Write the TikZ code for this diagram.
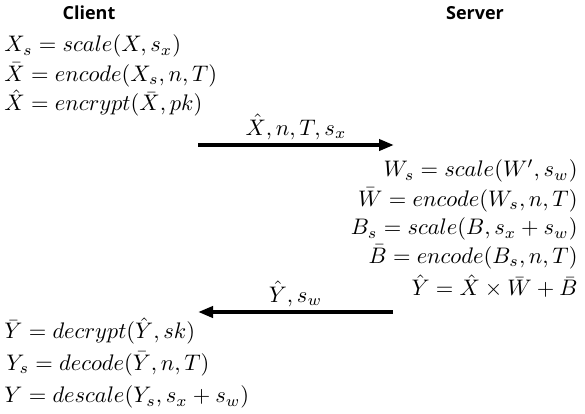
\documentclass[tikz,border=0pt]{standalone}
\usepackage{amsmath}
\usepackage{fontspec}
\setsansfont{Open Sans}
\usepackage{tikz}
\usetikzlibrary{arrows.meta}

\begin{document}
\begin{tikzpicture}[
      x=1pt, y=1pt,
      >={Triangle[length=15pt, width=11pt]},
      hdr/.style={font=\sffamily\bfseries\fontsize{18}{20}\selectfont},
      eq/.style={scale=2.25, inner sep=0pt},
      lbl/.style={scale=2.25, inner sep=0.5pt},
      msg/.style={line width=4pt, ->}
    ]
    \useasboundingbox (0,0) rectangle (585,-413);

    % Intestazioni
    \node[hdr] (client) at (89,-13) {Client};
    \node[hdr] (server) at (475,-13) {Server};

    % Client: cifratura
    \node[eq, anchor=west] (c1) at (4,-46) {$X_s = scale(X, s_x)$};
    \node[eq, anchor=west] (c2) at (4,-75) {$\bar{X} = encode(X_s, n, T)$};
    \node[eq, anchor=west] (c3) at (4,-103) {$\hat{X} = encrypt(\bar{X}, pk)$};

    % Messaggio verso il server
    \coordinate (m1a) at (198,-145);
    \coordinate (m1b) at (394,-145);
    \draw[msg] (m1a) -- (m1b) node[midway, above, lbl] (m1) {$\hat{X}, n, T, s_x$};

    % Server: calcolo
    \node[eq, anchor=east] (s1) at (578,-171) {$W_s = scale(W', s_w)$};
    \node[eq, anchor=east] (s2) at (578,-200) {$\bar{W} = encode(W_s, n, T)$};
    \node[eq, anchor=east] (s3) at (578,-229) {$B_s = scale(B, s_x + s_w)$};
    \node[eq, anchor=east] (s4) at (578,-257) {$\bar{B} = encode(B_s, n, T)$};
    \node[eq, anchor=east] (s5) at (578,-286) {$\hat{Y} = \hat{X} \times \bar{W} + \bar{B}$};

    % Messaggio verso il client
    \coordinate (m2a) at (393,-312);
    \coordinate (m2b) at (198,-312);
    \draw[msg] (m2a) -- (m2b) node[midway, above, lbl] (m2) {$\hat{Y}, s_w$};

    % Client: decifratura
    \node[eq, anchor=west] (d1) at (4,-331) {$\bar{Y} = decrypt(\hat{Y}, sk)$};
    \node[eq, anchor=west] (d2) at (6,-364) {$Y_s = decode(\bar{Y}, n, T)$};
    \node[eq, anchor=west] (d3) at (4,-397) {$Y = descale(Y_s, s_x + s_w)$};
  \end{tikzpicture}
\end{document}
